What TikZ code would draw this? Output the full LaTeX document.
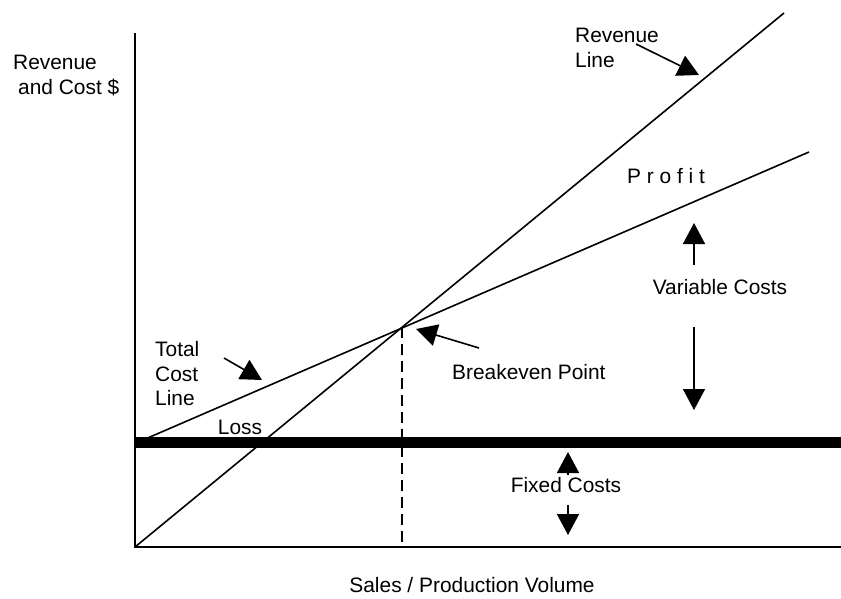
\documentclass[tikz,border=0pt]{standalone}
\usepackage{fontspec}
\setmainfont{Liberation Sans}
\usetikzlibrary{arrows.meta}

\begin{document}
\begin{tikzpicture}[x=1pt,y=-1pt,
  lbl/.style={inner sep=0pt,font=\fontsize{20.9}{24.5}\selectfont},
  ln/.style={line width=1.6pt},
  ptr/.style={ln,-{Triangle[length=21pt,width=22pt]}}]
\useasboundingbox (0,0) rectangle (841,598);
% axes and lines
\coordinate (O) at (135,547);
\coordinate (Ytop) at (135,33);
\coordinate (Xend) at (841,547);
\coordinate (R) at (784,13);
\coordinate (C0) at (143,440);
\coordinate (C) at (809,152);
\coordinate (BE) at (402,327);
\coordinate (F0) at (135,442.5);
\coordinate (F1) at (841,442.5);
\draw[ln] (Ytop) -- (O) -- (Xend);
\draw[line width=11pt] (F0) -- (F1);
\draw[ln] (O) -- (R);
\draw[ln] (C0) -- (C);
\draw[ln,dash pattern=on 11pt off 6pt] (BE) -- (BE |- O);
% labels
\node[lbl,anchor=west,align=left] (ylab) at (13,75.5) {Revenue\\\hspace{5pt}and Cost \$};
\node[lbl] (xlab) at (472,585) {Sales / Production Volume};
\node[lbl,anchor=west,align=left] (rev) at (575,48) {Revenue\\Line};
\node[lbl] (prof) at (666,176) {P r o f i t};
\node[lbl,anchor=west,align=left] (tc) at (155,374) {Total\\Cost\\Line};
\node[lbl] (loss) at (240,427) {Loss};
\node[lbl,anchor=west] (be) at (452,372) {Breakeven Point};
\node[lbl] (vc) at (720,287) {Variable Costs};
\node[lbl] (fc) at (566,485) {Fixed Costs};
% pointers
\coordinate (revA) at (636,44);
\coordinate (revB) at (699,75);
\coordinate (tcA) at (224,358);
\coordinate (tcB) at (262,380);
\coordinate (beA) at (479,348);
\coordinate (beB) at (416,329);
\coordinate (vcA) at (694,265);
\coordinate (vcB) at (694,223);
\coordinate (vcC) at (694,327);
\coordinate (vcD) at (694,410);
\coordinate (fcA) at (568,475);
\coordinate (fcB) at (568,452);
\coordinate (fcC) at (568,505);
\coordinate (fcD) at (568,535);
\draw[ptr] (revA) -- (revB);
\draw[ptr] (tcA) -- (tcB);
\draw[ptr] (beA) -- (beB);
\draw[ptr] (vcA) -- (vcB);
\draw[ptr] (vcC) -- (vcD);
\draw[ptr] (fcA) -- (fcB);
\draw[ptr] (fcC) -- (fcD);
\end{tikzpicture}
\end{document}
